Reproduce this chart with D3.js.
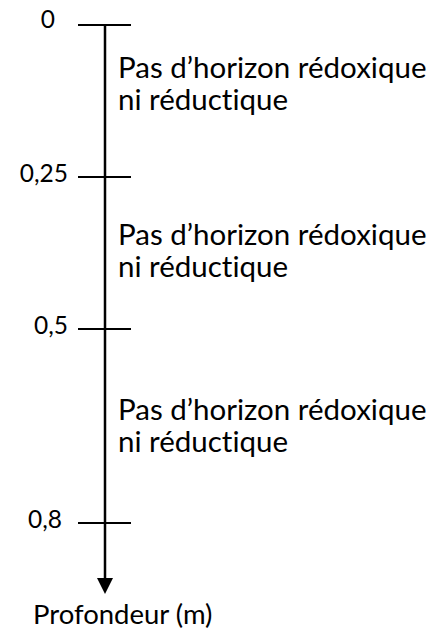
<!DOCTYPE html>
<html>
<head>
<meta charset="utf-8">
<script src="https://cdn.jsdelivr.net/npm/d3@7"></script>
<style>
  body { margin: 0; background: #fff; }
  svg text { font-family: Lato, "Open Sans", sans-serif; fill: #000; font-variant-ligatures: none; }
</style>
</head>
<body>
<div id="profil"></div>
<script>
// depths (m) of the tick marks and their labels
var depths = [0, 0.25, 0.5, 0.8];
var depthLabels = ["0", "0,25", "0,5", "0,8"];

// one text per layer, with the depth where it sits
var layerText = ["Pas d\u2019horizon rédoxique", "Pas d\u2019horizon rédoxique", "Pas d\u2019horizon rédoxique"];
var layerText2 = ["ni réductique", "ni réductique", "ni réductique"];
var layerDepth = [0.087, 0.362, 0.641];

var axisTitle = "Profondeur (m)";

var width = 436, height = 631;

var svg = d3.select("#profil")
    .append("svg")
    .attr("width", width)
    .attr("height", height);

// drawing is not to scale: piecewise scale between the marks
var y = d3.scaleLinear()
    .domain(depths)
    .range([25, 177, 329, 523]);

var axisX = 105;
// the labels were placed by hand in the original, not all flush
var labelRight = [55, 68, 68, 62];

// main vertical line
svg.append("line")
    .attr("x1", axisX).attr("x2", axisX)
    .attr("y1", y(0))
    .attr("y2", 580)
    .style("stroke", "#000")
    .style("stroke-width", 2.5);

// arrow head
svg.append("path")
    .attr("d", "M" + (axisX - 8) + ",578 L" + (axisX + 8) + ",578 L" + axisX + ",594 Z")
    .style("fill", "#000");

// ticks
svg.selectAll(".tick")
    .data(depths)
    .enter()
    .append("line")
    .attr("class", "tick")
    .attr("x1", axisX - 27).attr("x2", axisX + 26)
    .attr("y1", function (d) { return y(d); })
    .attr("y2", function (d) { return y(d); })
    .style("stroke", "#000")
    .style("stroke-width", 2);

// tick labels
svg.selectAll(".lbl")
    .data(depths)
    .enter()
    .append("text")
    .attr("class", "lbl")
    .attr("x", function (d, i) { return labelRight[i]; })
    .attr("y", function (d, i) { return y(d) + (i == 0 ? 3 : 5); })
    .style("text-anchor", "end")
    .style("font-size", "24.5px")
    .text(function (d, i) { return depthLabels[i]; });

// layer descriptions
var g = svg.selectAll(".layer")
    .data(layerDepth)
    .enter()
    .append("text")
    .attr("class", "layer")
    .attr("x", 118)
    .attr("y", function (d) { return y(d); })
    .style("font-size", "29.5px");
g.append("tspan")
    .attr("x", 118)
    .text(function (d, i) { return layerText[i]; });
g.append("tspan")
    .attr("x", 118)
    .attr("dy", 32)
    .text(function (d, i) { return layerText2[i]; });

// axis title
svg.append("text")
    .attr("x", 33)
    .attr("y", 624)
    .style("font-size", "27.5px")
    .text(axisTitle);
</script>
</body>
</html>
